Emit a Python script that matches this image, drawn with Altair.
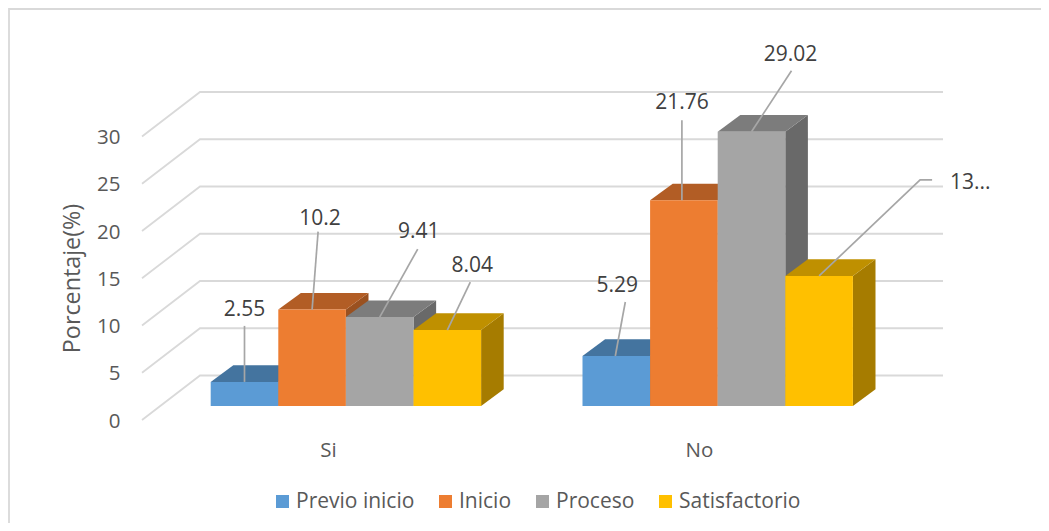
import altair as alt
import pandas as pd

categories = ["Si", "No"]
series = ["Previo inicio", "Inicio", "Proceso", "Satisfactorio"]
values = {"Si": [2.55, 10.2, 9.41, 8.04], "No": [5.29, 21.76, 29.02, 13.76]}
label_text = {"Si": ["2.55", "10.2", "9.41", "8.04"], "No": ["5.29", "21.76", "29.02", "13..."]}
front_colors = ["#5B9BD5", "#ED7D31", "#A5A5A5", "#FFC000"]
top_colors = ["#44749F", "#B25D25", "#7C7C7C", "#BF9000"]
side_colors = ["#3B6588", "#9A5120", "#696969", "#A67C00"]
y_ticks = [0, 5, 10, 15, 20, 25, 30]

# layout of the oblique projection, in chart units (1 bar width in x, 1 percent in y)
BAR_PX, UNIT_PX = 67.6, 9.45
X0_PX, Y0_PX = 210.7, 420.0
W, H = 1033, 515
def ux(px): return (px - X0_PX) / BAR_PX
def uy(py): return (Y0_PX - py) / UNIT_PX
group_start = {"Si": 0.0, "No": 5.5}
base = 14 / UNIT_PX
dx, dy = 22.6 / BAR_PX, 16.7 / UNIT_PX
wall_dx, wall_dy = ux(200) - ux(142), 44.5 / UNIT_PX
axis_x0, wall_x1 = ux(142), ux(943)

# label anchor, leader knots: offsets in px from the centre of each bar's top edge
label_off = {
    "Si": [(0, -72), (8, -91), (39, -85), (25, -64)],
    "No": [(1, -70), (-2, -97), (39, -77), (0, 0)],
}
leader_off = {
    "Si": [[(0, -56), (0, 0)], [(6, -78), (0, 0)], [(38, -68), (0, 0)], [(23, -48), (0, 0)]],
    "No": [[(9, -54), (-1, 0)], [(-2, -80), (-2, 0)], [(40, -61), (0, 0)], [(113, -96), (101, -96), (0, 0)]],
}

rows, faces_side, faces_top, leaders, labels = [], [], [], [], []
for c in categories:
    for i, s in enumerate(series):
        v = values[c][i]
        x0 = group_start[c] + i
        x1 = x0 + 1
        t = base + v
        bid = f"{c}-{s}"
        rows.append(dict(serie=s, x0=x0, x1=x1, y0=base, y1=t))
        faces_side += [dict(bar=bid, col=side_colors[i], x=x1, y=t, y2=base),
                       dict(bar=bid, col=side_colors[i], x=x1 + dx, y=t + dy, y2=base + dy)]
        faces_top += [dict(bar=bid, col=top_colors[i], y=t, x=x0, x2=x1),
                      dict(bar=bid, col=top_colors[i], y=t + dy, x=x0 + dx, x2=x1 + dx)]
        cx = x0 + 0.5
        for k, (ox, oy) in enumerate(leader_off[c][i]):
            leaders.append(dict(bar=bid, k=k, x=cx + ox / BAR_PX, y=t - oy / UNIT_PX))
        if not (c == "No" and i == 3):
            ox, oy = label_off[c][i]
            labels.append(dict(x=cx + ox / BAR_PX, y=t - oy / UNIT_PX, t=label_text[c][i], a="center"))
        else:
            labels.append(dict(x=ux(950), y=uy(183), t=label_text[c][i], a="left"))

grid = []
for v in y_ticks:
    grid += [dict(g=v, k=0, x=axis_x0, y=v),
             dict(g=v, k=1, x=axis_x0 + wall_dx, y=v + wall_dy),
             dict(g=v, k=2, x=wall_x1, y=v + wall_dy)]

x_scale = alt.Scale(domain=[ux(8), ux(8 + W)], nice=False, zero=False)
y_scale = alt.Scale(domain=[uy(8 + H), uy(8)], nice=False, zero=False)
x_axis = alt.Axis(values=[ux(328), ux(699)],
                  labelExpr=f"datum.value < {ux(500)} ? '{categories[0]}' : '{categories[1]}'",
                  domain=False, ticks=False, grid=False, title=None, offset=-86,
                  labelFont="Open Sans", labelFontSize=20.5, labelColor="#595959", labelPadding=3)
y_axis = alt.Axis(values=y_ticks, domain=False, ticks=False, grid=False, offset=-112,
                  title="Porcentaje(%)", titleFont="Open Sans", titleFontSize=23.3,
                  titleFontWeight="normal", titleColor="#595959", titlePadding=12, titleY=270,
                  labelFont="Open Sans", labelFontSize=20.5, labelColor="#595959", labelPadding=0,
                  labelOffset=1)
X = alt.X("x:Q", scale=x_scale, axis=x_axis)
Y = alt.Y("y:Q", scale=y_scale, axis=y_axis)

frame_left = alt.Chart(pd.DataFrame({"a": [0]})).mark_rule(color="#D9D9D9", strokeWidth=1.8).encode(
    x=alt.value(1), y=alt.value(0), y2=alt.value(H))
frame_top = alt.Chart(pd.DataFrame({"a": [0]})).mark_rule(color="#D9D9D9", strokeWidth=1.8).encode(
    y=alt.value(1), x=alt.value(1), x2=alt.value(W))

grid_layer = alt.Chart(pd.DataFrame(grid)).mark_line(color="#D9D9D9", strokeWidth=1.8).encode(
    x=X, y=Y, detail="g:N", order="k:Q")
sides = alt.Chart(pd.DataFrame(faces_side)).mark_area(orient="vertical").encode(
    x=X, y=Y, y2="y2:Q", detail="bar:N", color=alt.Color("col:N", scale=None))
tops = alt.Chart(pd.DataFrame(faces_top)).mark_area(orient="horizontal").encode(
    y=Y, x=X, x2="x2:Q", detail="bar:N", color=alt.Color("col:N", scale=None))
fronts = alt.Chart(pd.DataFrame(rows)).mark_rect().encode(
    x=alt.X("x0:Q", scale=x_scale, axis=x_axis), x2="x1:Q",
    y=alt.Y("y0:Q", scale=y_scale, axis=y_axis), y2="y1:Q",
    color=alt.Color("serie:N", scale=alt.Scale(domain=series, range=front_colors),
                    legend=alt.Legend(title=None, orient="none", legendX=264, legendY=483,
                                      direction="horizontal", columns=4, symbolType="square",
                                      symbolSize=169, symbolStrokeWidth=0, labelFont="Open Sans",
                                      labelFontSize=21, labelColor="#595959", columnPadding=20,
                                      labelOffset=3, symbolOpacity=1, gridAlign="none")))
leader_layer = alt.Chart(pd.DataFrame(leaders)).mark_line(color="#A6A6A6", strokeWidth=1.7).encode(
    x=X, y=Y, detail="bar:N", order="k:Q")
label_center = alt.Chart(pd.DataFrame(labels)).transform_filter("datum.a == 'center'").mark_text(
    font="Open Sans", fontSize=21, color="#404040", align="center", baseline="middle").encode(x=X, y=Y, text="t:N")
label_left = alt.Chart(pd.DataFrame(labels)).transform_filter("datum.a == 'left'").mark_text(
    font="Open Sans", fontSize=21, color="#404040", align="left", baseline="middle").encode(x=X, y=Y, text="t:N")

chart = alt.layer(
    frame_left, frame_top, grid_layer, sides, tops, fronts, leader_layer, label_center, label_left
).resolve_scale(color="independent").properties(
    width=W, height=H, padding=0, autosize=alt.AutoSizeParams(type="none")
).configure_view(stroke=None)

chart.save("out.html", embed_options={"renderer": "svg", "actions": False})
